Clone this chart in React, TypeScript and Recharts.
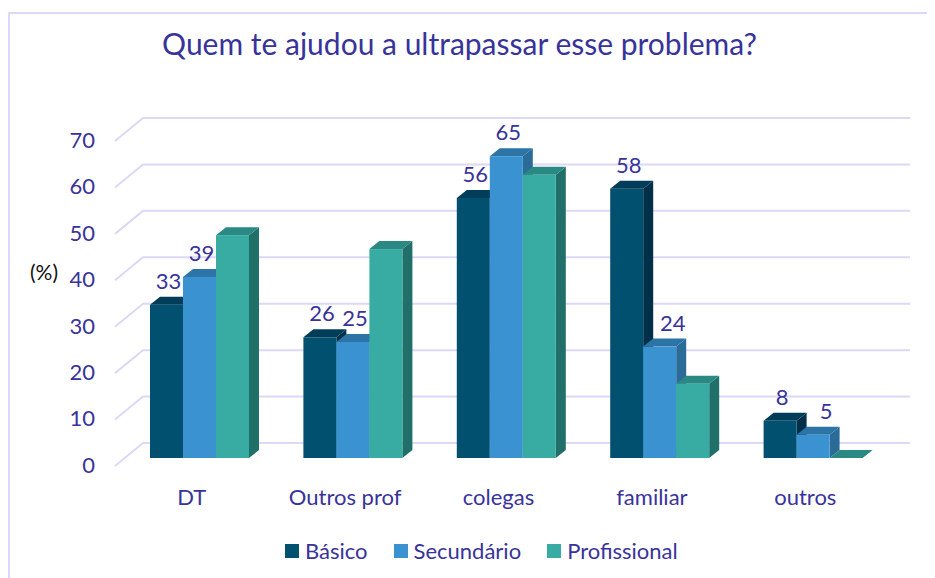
import { BarChart, Bar, XAxis, YAxis, CartesianGrid, LabelList } from 'recharts'

const categories = ['DT', 'Outros prof', 'colegas', 'familiar', 'outros']
const basico = [33, 26, 56, 58, 8]
const secundario = [39, 25, 65, 24, 5]
const profissional = [48, 45, 61, 16, 0]
const yTicks = [0, 10, 20, 30, 40, 50, 60, 70]

const series = [
  { key: 'basico', name: 'Básico', front: '#02506f', side: '#013048', top: '#013d58', labels: true },
  { key: 'secundario', name: 'Secundário', front: '#3a93d0', side: '#2a6b98', top: '#2c73a6', labels: true },
  { key: 'profissional', name: 'Profissional', front: '#38aca3', side: '#216f69', top: '#2a8a83', labels: false },
]

const data = categories.map((c, i) => ({
  name: c,
  basico: basico[i],
  secundario: secundario[i],
  profissional: profissional[i],
}))

const FONT = 'Lato, "Open Sans", sans-serif'
const TEXT = '#38339a'
const GRID = '#dcd8f7'
const DX = 10
const DY = -8

function Box3D(props: any) {
  const { x, y, width, height, front, side, top } = props
  const h = Math.max(0, height)
  return (
    <g>
      <polygon
        points={`${x + width},${y} ${x + width + DX},${y + DY} ${x + width + DX},${y + h + DY} ${x + width},${y + h}`}
        fill={side}
      />
      <polygon
        points={`${x},${y} ${x + DX},${y + DY} ${x + width + DX},${y + DY} ${x + width},${y}`}
        fill={top}
      />
      {h > 0 && <rect x={x} y={y} width={width} height={h} fill={front} />}
    </g>
  )
}

function gridLine(p: any) {
  return (
    <polyline
      key={p.key}
      points={`${p.x1 - 8},${p.y1 + 8} ${p.x1 + 20},${p.y1 - 15} ${p.x2 + 20},${p.y2 - 15}`}
      fill="none"
      stroke={GRID}
      strokeWidth={2}
    />
  )
}

function YTick({ x, y, payload }: any) {
  return (
    <text x={x} y={y + 7} dy="0.355em" textAnchor="end" fontSize={22} fontFamily={FONT} fill={TEXT}>
      {payload.value}
    </text>
  )
}

function XTick({ x, y, payload }: any) {
  return (
    <text x={x - 8} y={y + 31} dy="0.355em" textAnchor="middle" fontSize={22} fontFamily={FONT} fill={TEXT}>
      {payload.value}
    </text>
  )
}

// labels sit over the top face; when the bar to the left is clearly taller, Excel nudges them right
function makeLabel(seriesKey: string) {
  return (p: any) => {
    const { x, y, width, value, index } = p
    const shift = seriesKey === 'secundario' && basico[index] - value > 2 ? 13 : 2
    return (
      <text x={x + width / 2 + shift} y={y - 16} textAnchor="middle" fontSize={22} fontFamily={FONT} fill={TEXT}>
        {value}
      </text>
    )
  }
}

export default function App() {
  return (
    <div style={{ position: 'relative', width: 927, height: 570, overflow: 'hidden', fontFamily: FONT }}>
      <div
        style={{
          position: 'absolute',
          left: 0,
          top: 4,
          width: 960,
          height: 600,
          borderLeft: `2px solid ${GRID}`,
          borderTop: `2px solid ${GRID}`,
        }}
      />
      <div
        style={{
          position: 'absolute',
          left: 0,
          width: 903,
          top: 18,
          textAlign: 'center',
          fontSize: 30,
          lineHeight: '34px',
          color: TEXT,
        }}
      >
        Quem te ajudou a ultrapassar esse problema?
      </div>
      <div style={{ position: 'absolute', left: 22, top: 251, fontSize: 21, lineHeight: '26px', color: '#111' }}>(%)</div>
      <div style={{ position: 'absolute', top: 530, left: 277, display: 'flex', alignItems: 'center' }}>
        {series.map((s) => (
          <div key={s.key} style={{ display: 'flex', alignItems: 'center', marginRight: 26 }}>
            <span style={{ width: 14, height: 14, background: s.front, display: 'inline-block', marginRight: 6 }} />
            <span style={{ fontSize: 22, lineHeight: '26px', color: TEXT }}>{s.name}</span>
          </div>
        ))}
      </div>
      <div style={{ position: 'absolute', left: 0, top: 0 }}>
        <BarChart
          width={927}
          height={570}
          data={data}
          margin={{ top: 125, right: 45, left: 55, bottom: 0 }}
          barGap={0}
          barSize={33}
        >
          <CartesianGrid vertical={false} horizontal={gridLine} />
          <XAxis
            dataKey="name"
            axisLine={false}
            tickLine={false}
            height={120}
            tick={<XTick />}
            interval={0}
          />
          <YAxis
            domain={[0, 70]}
            ticks={yTicks}
            axisLine={false}
            tickLine={false}
            width={60}
            tickMargin={22}
            tick={<YTick />}
          />
          {series.map((s) => (
            <Bar
              key={s.key}
              dataKey={s.key}
              name={s.name}
              fill={s.front}
              isAnimationActive={false}
              shape={(p: any) => <Box3D {...p} front={s.front} side={s.side} top={s.top} />}
            >
              {s.labels && <LabelList dataKey={s.key} content={makeLabel(s.key)} />}
            </Bar>
          ))}
        </BarChart>
      </div>
    </div>
  )
}
